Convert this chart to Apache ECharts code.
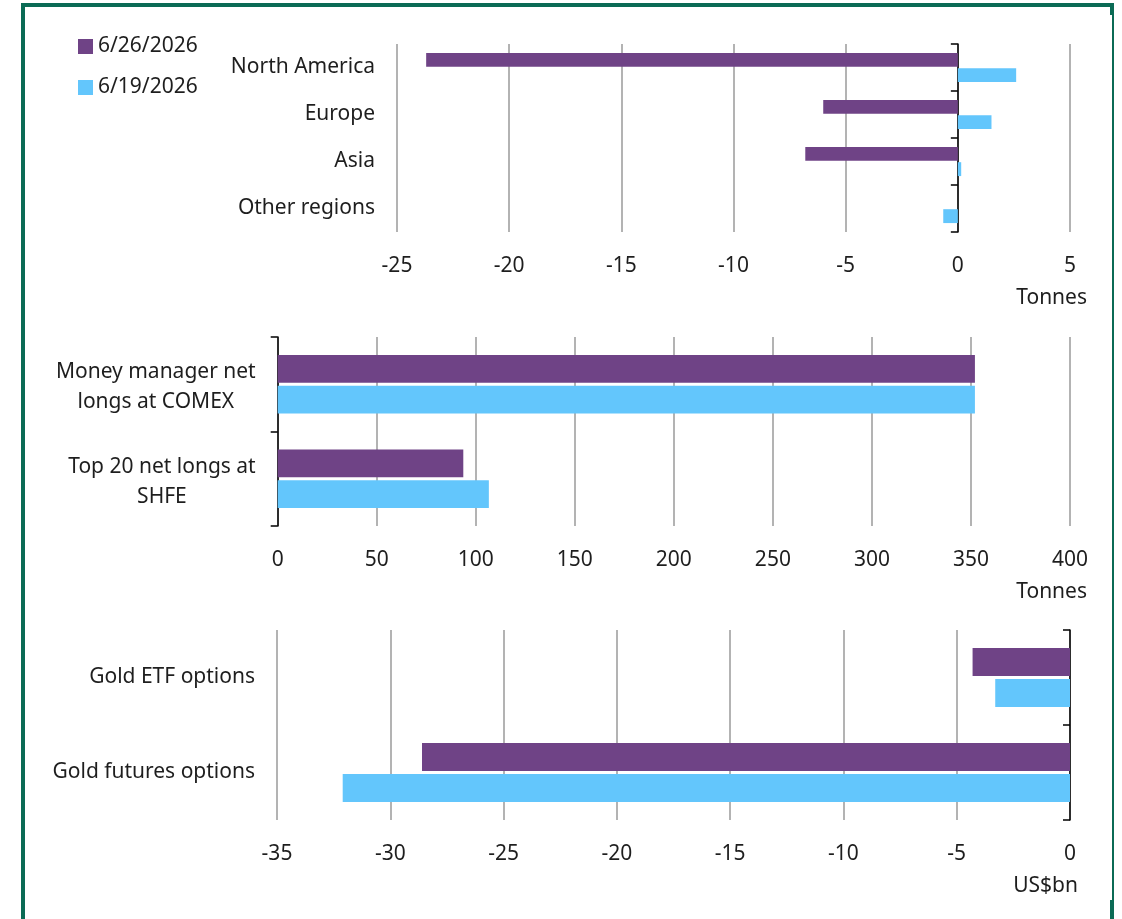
<!DOCTYPE html>
<html>
<head>
<meta charset="utf-8">
<script src="https://cdn.jsdelivr.net/npm/echarts@6/dist/echarts.min.js"></script>
<style>
  html, body { margin: 0; padding: 0; background: #fff; }
  #chart { width: 1122px; height: 919px; }
</style>
</head>
<body>
<div id="chart"></div>
<script>
  // values
  const seriesNames = ['6/26/2026', '6/19/2026']

  const regions = ['North America', 'Europe', 'Asia', 'Other regions']
  const regionsJun26 = [-23.7, -6.0, -6.8, 0]
  const regionsJun19 = [2.6, 1.5, 0.15, -0.65]

  const positions = ['Money manager net\nlongs at COMEX', 'Top 20 net longs at\nSHFE']
  const positionsJun26 = [352, 93.7]
  const positionsJun19 = [352, 106.6]

  const optionTypes = ['Gold ETF options', 'Gold futures options']
  const optionsJun26 = [-4.3, -28.6]
  const optionsJun19 = [-3.3, -32.1]

  const purple = '#6f4386'
  const blue = '#63c6fc'
  const textColor = '#1e1e1e'
  const font = 'Noto Sans'
  const fs = 21
  const green = '#0b6b55'

  const chart = echarts.init(document.getElementById('chart'))

  function valueAxis(gridIndex, min, max, interval, name, nameGap) {
    return {
      type: 'value',
      gridIndex: gridIndex,
      min: min,
      max: max,
      interval: interval,
      axisLine: { show: false },
      axisTick: { show: false },
      splitLine: { show: true, lineStyle: { color: '#b3b3b3', width: 2 } },
      axisLabel: { color: textColor, fontFamily: font, fontSize: fs, margin: 24 },
      name: name,
      nameLocation: 'end',
      nameGap: nameGap,
      nameTextStyle: {
        color: textColor, fontFamily: font, fontSize: fs,
        align: 'right', verticalAlign: 'top', padding: [56, 0, 0, 0]
      }
    }
  }

  // labels sit at the grid's left edge
  function labelAxis(gridIndex, cats, multiline) {
    const label = {
      color: textColor, fontFamily: font, fontSize: fs, margin: 22,
      padding: [4, 0, 0, 0]
    }
    if (multiline) {
      label.padding = [6, 0, 0, 0]
      label.formatter = v => v.split('\n').map(s => '{c|' + s + '}').join('\n')
      label.rich = { c: { align: 'center', color: textColor, fontFamily: font, fontSize: fs, lineHeight: 30 } }
    }
    return {
      type: 'category',
      gridIndex: gridIndex,
      data: cats,
      inverse: true,
      position: 'left',
      axisLine: { show: false, onZero: false },
      axisTick: { show: false },
      axisLabel: label
    }
  }

  // the black line with band ticks at value zero
  function zeroAxis(gridIndex, cats) {
    return {
      type: 'category',
      gridIndex: gridIndex,
      data: cats,
      inverse: true,
      position: 'left',
      axisLine: { show: true, onZero: true, lineStyle: { color: '#000', width: 1.5 } },
      axisTick: { show: true, length: 7, lineStyle: { color: '#000', width: 1.5 } },
      axisLabel: { show: false }
    }
  }

  function bars(name, color, xi, yi, data) {
    return {
      name: name,
      type: 'bar',
      xAxisIndex: xi,
      yAxisIndex: yi,
      data: data,
      barGap: '10%',
      barCategoryGap: '38%',
      itemStyle: { color: color },
      emphasis: { disabled: true }
    }
  }

  chart.setOption({
    animation: false,
    textStyle: { fontFamily: font },
    legend: {
      data: seriesNames,
      orient: 'vertical',
      left: 78,
      top: 36,
      padding: 0,
      itemWidth: 15,
      itemHeight: 15,
      itemGap: 20,
      icon: 'rect',
      textStyle: { color: textColor, fontFamily: font, fontSize: fs }
    },
    grid: [
      { left: 397, right: 52, top: 44, height: 188 },
      { left: 277.7, right: 52, top: 337, height: 189 },
      { left: 277, right: 52, top: 630, height: 190 }
    ],
    xAxis: [
      valueAxis(0, -25, 5, 5, 'Tonnes', 17),
      valueAxis(1, 0, 400, 50, 'Tonnes', 17),
      valueAxis(2, -35, 0, 5, 'US$bn', 8)
    ],
    yAxis: [
      labelAxis(0, regions, false),
      zeroAxis(0, regions),
      labelAxis(1, positions, true),
      zeroAxis(1, positions),
      labelAxis(2, optionTypes, false),
      zeroAxis(2, optionTypes)
    ],
    series: [
      bars(seriesNames[0], purple, 0, 0, regionsJun26),
      bars(seriesNames[1], blue, 0, 0, regionsJun19),
      bars(seriesNames[0], purple, 1, 2, positionsJun26),
      bars(seriesNames[1], blue, 1, 2, positionsJun19),
      bars(seriesNames[0], purple, 2, 4, optionsJun26),
      bars(seriesNames[1], blue, 2, 4, optionsJun19)
    ],
    graphic: [
      { type: 'rect', shape: { x: 21, y: 3, width: 1093, height: 4 }, style: { fill: green }, silent: true },
      { type: 'rect', shape: { x: 21, y: 3, width: 4, height: 916 }, style: { fill: green }, silent: true },
      { type: 'rect', shape: { x: 1112, y: 3, width: 2, height: 916 }, style: { fill: green }, silent: true },
      { type: 'rect', shape: { x: 1110, y: 3, width: 4, height: 12 }, style: { fill: green }, silent: true },
      { type: 'rect', shape: { x: 1110, y: 900, width: 4, height: 19 }, style: { fill: green }, silent: true }
    ]
  })
</script>
</body>
</html>
